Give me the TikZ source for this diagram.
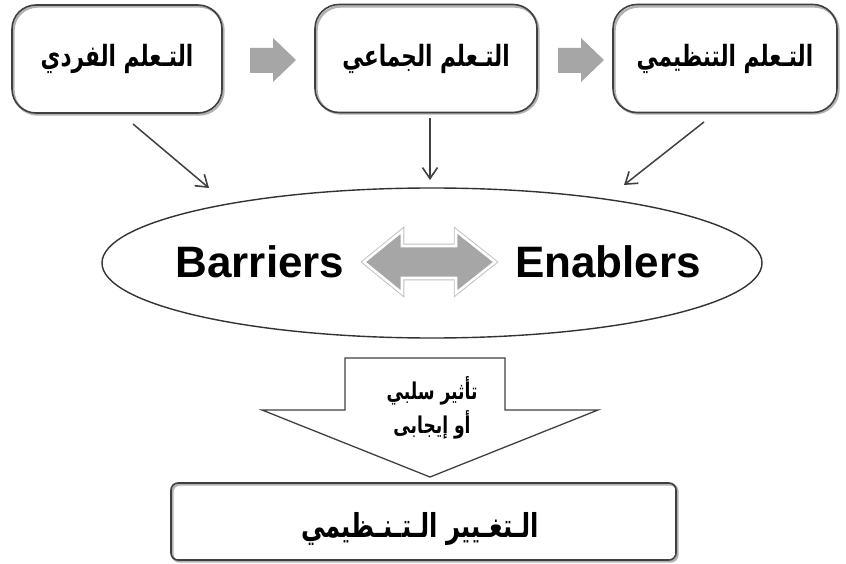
\documentclass[tikz,border=0pt]{standalone}
\usepackage{fontspec}
\usepackage{graphicx}
\setmainfont{Liberation Sans}
\newfontfamily\arabicfont[Script=Arabic]{DejaVu Sans}
\TeXXeTstate=1
\usetikzlibrary{shapes.geometric,arrows.meta}
% taller, slightly narrower Arabic lettering
\newcommand{\tallar}[1]{\scalebox{0.9}[1.22]{#1}}
\begin{document}
\begin{tikzpicture}[x=1pt,y=-1pt,
  learnbox/.style={draw=black!75, line width=1.6pt, rounded corners=24pt,
    minimum width=210pt, minimum height=108pt, inner sep=0pt,
    font=\arabicfont\bfseries\fontsize{24}{28}\selectfont},
  boxshadow/.style={draw=black!30, line width=2.4pt, rounded corners=24pt},
  flowarrow/.style={draw=black!75, line width=1.5pt,
    -{Straight Barb[length=11pt,width=15pt,line width=1.6pt]}},
  stepfill/.style={fill=black!35, draw=none},
  ovalword/.style={font=\bfseries\fontsize{44}{50}\selectfont, inner sep=0pt}
]
\useasboundingbox (0,0) rectangle (846,564);

% soft shadows behind the three learning boxes
\draw[boxshadow] (13.5,6.5) rectangle (223.5,114.5);
\draw[boxshadow] (316.5,6.5) rectangle (538.5,113.5);
\draw[boxshadow] (614.5,6.5) rectangle (838.5,113.5);

% learning levels
\node[learnbox, minimum width=210pt] (indiv) at (117,59) {\raisebox{-5pt}{\tallar{\beginR التـعلم الفردي\endR}}};
\node[learnbox, minimum width=222pt] (group) at (426,58.5) {\raisebox{-3pt}{\tallar{\beginR التـعلم الجماعي\endR}}};
\node[learnbox, minimum width=224pt] (org) at (725,58.5) {\raisebox{-5pt}{\tallar{\beginR التـعلم التنظيمي\endR}}};

% grey step arrows between the boxes
\fill[stepfill] (250,48) -- (273,48) -- (273,38) -- (296,60) -- (273,82) -- (273,73) -- (250,73) -- cycle;
\fill[stepfill] (558,48) -- (581,48) -- (581,38) -- (604,60) -- (581,82) -- (581,73) -- (558,73) -- cycle;

% the oval of barriers and enablers
\node[draw=black!80, line width=1.4pt, ellipse, minimum width=660pt, minimum height=150pt, inner sep=0pt]
  (oval) at (432,263) {};
\node[ovalword] (barr) at (260,262) {Barriers};
\node[ovalword] (enab) at (608,262) {Enablers};

% two-headed grey arrow between the words
\path[draw=black!25, line width=4.5pt, line join=miter]
  (364,262) -- (402,231) -- (402,246) -- (456,246) -- (456,231) -- (495,262)
  -- (456,293) -- (456,278) -- (402,278) -- (402,293) -- cycle;
\path[draw=white, line width=2.6pt, fill=black!35, line join=miter]
  (364,262) -- (402,231) -- (402,246) -- (456,246) -- (456,231) -- (495,262)
  -- (456,293) -- (456,278) -- (402,278) -- (402,293) -- cycle;

% connectors from each level into the oval
\coordinate (s1) at (133,124);
\coordinate (e1) at (209,188);
\coordinate (s2) at (430,118);
\coordinate (e2) at (430,180);
\coordinate (s3) at (704,122);
\coordinate (e3) at (624,185);
\draw[flowarrow] (s1) -- (e1);
\draw[flowarrow] (s2) -- (e2);
\draw[flowarrow] (s3) -- (e3);

% block arrow pointing to organisational change
\draw[draw=black!75, line width=1.3pt, fill=white, line join=miter]
  (345,358) -- (505,358) -- (505,410) -- (598,410) -- (430,477)
  -- (262,410) -- (345,410) -- cycle;
\node[font=\arabicfont\bfseries\fontsize{19}{26}\selectfont, align=center, inner sep=0pt]
  (effect) at (432,408) {\tallar{\beginR تأثير سلبي\endR}\\[4pt]\tallar{\beginR أو إيجابى\endR}};

% outcome box
\draw[draw=black!30, line width=2.4pt, rounded corners=7pt] (172.5,484.5) rectangle (677.5,561.5);
\node[draw=black!75, line width=1.6pt, rounded corners=7pt, minimum width=505pt, minimum height=77pt,
  inner sep=0pt] (change) at (423.5,521.5) {};
\node[inner sep=0pt, font=\arabicfont\bfseries\fontsize{27}{32}\selectfont]
  (changetext) at (420,529) {\tallar{\beginR الـتغـيير الـتـنـظيمي\endR}};
\end{tikzpicture}
\end{document}
